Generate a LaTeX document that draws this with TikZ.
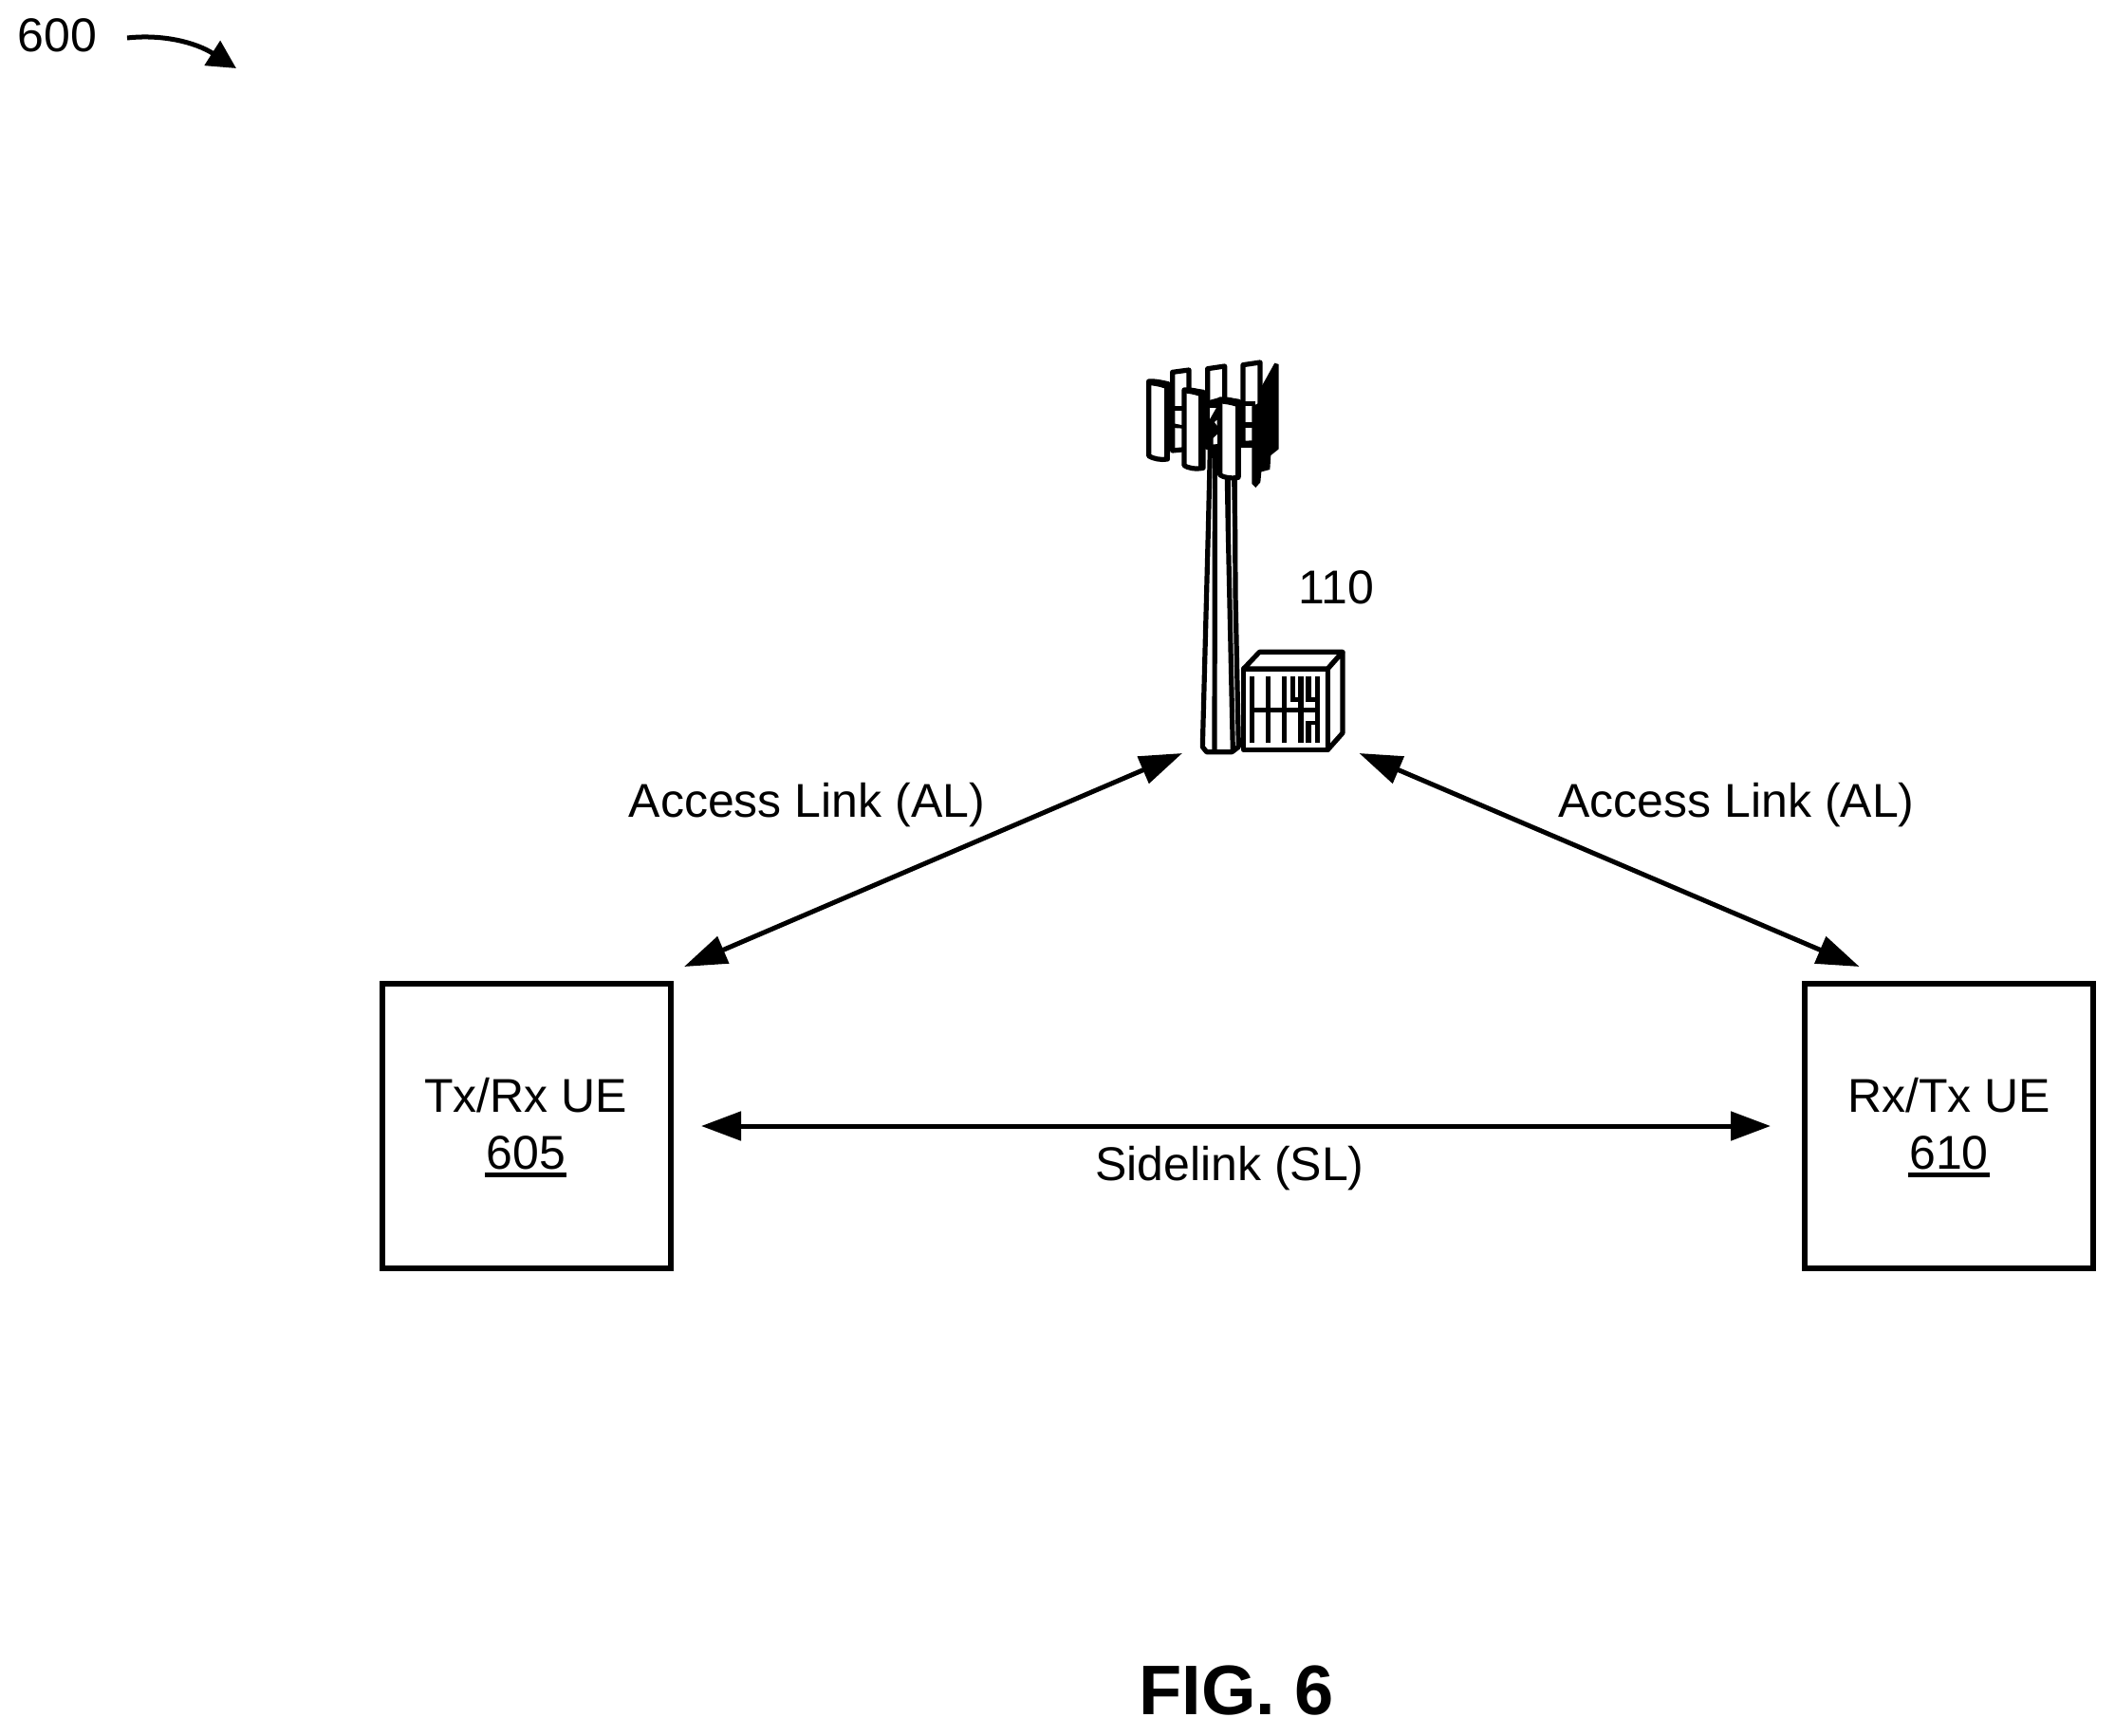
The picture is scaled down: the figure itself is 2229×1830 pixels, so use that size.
\documentclass[tikz,border=0pt]{standalone}
\usepackage{fontspec}
\setmainfont{Liberation Sans}
\usetikzlibrary{arrows.meta}
\newcommand{\ulnum}[1]{\setbox0\hbox{#1}\leavevmode\rlap{\kern-1.5pt\raisebox{-8.3pt}{\rule{\dimexpr\wd0+3pt\relax}{4.6pt}}}\box0}
\newcommand{\lowerstrut}{\rule{0pt}{39.5pt}}
\tikzset{
  txt/.style={inner sep=0pt,outer sep=0pt,font=\fontsize{50}{59.3}\selectfont},
  lbl/.style={txt,anchor=base},
  ue/.style={txt,draw=black,line width=5.5pt,minimum width=304pt,minimum height=300pt,align=center},
  hull/.style={inner sep=0pt,outer sep=0pt,minimum width=209pt,minimum height=415pt},
  link/.style={line width=5pt,{Triangle[length=45pt,width=30pt]}-{Triangle[length=45pt,width=30pt]}},
  slink/.style={line width=5pt,{Triangle[length=42pt,width=30pt]}-{Triangle[length=42pt,width=30pt]}},
  refarrow/.style={line width=5pt,-{Triangle[length=30pt,width=30pt]}},
  panel/.style={draw=black,fill=white,line width=5.2pt,line join=round},
  tline/.style={draw=black,line width=5.2pt,line join=round,line cap=round},
}
\begin{document}
\begin{tikzpicture}[x=1pt,y=-1pt]
\useasboundingbox[fill=white] (0,0) rectangle (2229,1830);
% labels
\node[lbl] (l600) at (60.5,55) {600};
\coordinate (r600a) at (134,40);
\coordinate (r600b) at (249,72);
\draw[refarrow] (r600a) .. controls (170,36) and (205,44) .. (r600b);
\node[lbl] (l110) at (1408.5,636) {110};
\node[lbl] (alleft) at (850.4,861.7) {Access Link (AL)};
\node[lbl] (alright) at (1830,861.7) {Access Link (AL)};
\node[lbl] (sl) at (1296,1244.5) {Sidelink (SL)};
\node[lbl,font=\fontsize{74}{80}\selectfont\bfseries] (fig) at (1303,1807) {FIG. 6};
% UEs
\node[ue] (txue) at (555,1187) {\lowerstrut Tx/Rx UE\kern1.5pt\\\ulnum{605}\kern1.5pt};
\node[ue] (rxue) at (2054,1187) {\lowerstrut Rx/Tx UE\\\ulnum{610}};
% base station hull
\node[hull] (bs) at (1312.5,587.5) {};
% tower (zoom coordinates: origin 1230,560, scale 1/3)
\begin{scope}[shift={(1230,560)},scale=1/3]
  \fill[white] (140,-300) -- (112,680) -- (125,700) -- (205,700) -- (232,680) -- (215,-300) -- cycle;
  \draw[tline] (137,-300) -- (130,0) -- (112,682) -- (125,698) -- (205,698) -- (226,682) -- (216,200) -- (215,0) -- (212,-170);
  \draw[tline] (151,-300) -- (151,0) -- (150,695);
  \draw[tline] (190,-170) -- (193,0) -- (208,695);
\end{scope}
% cabinet
\begin{scope}[shift={(1230,560)},scale=1/3]
  \draw[panel] (242,435) -- (508,435) -- (508,691) -- (242,691) -- cycle;
  \draw[panel] (242,435) -- (292,382) -- (555,382) -- (508,435) -- cycle;
  \draw[panel] (508,435) -- (555,382) -- (555,638) -- (508,691) -- cycle;
  \fill (261,460) rectangle (277,668);
  \fill (311,460) rectangle (327,668);
  \fill (362,460) rectangle (378,668);
  \fill (389,460) rectangle (405,541);
  \fill (414,460) rectangle (431,668);
  \fill (439,460) rectangle (456,541);
  \fill (439,600) rectangle (456,668);
  \fill (467,460) rectangle (483,668);
  \fill (389,525) rectangle (431,541);
  \fill (439,525) rectangle (483,541);
  \fill (439,600) rectangle (483,611);
  \fill (261,557) rectangle (483,573);
\end{scope}
% antenna array (zoom coordinates: origin 1180,360, scale 1/3)
\begin{scope}[shift={(1180,360)},scale=1/3]
  % back panels
  \draw[panel] (167,97) -- (219,90) -- (219,340) -- (167,345) -- cycle;
  \draw[panel] (278,86) -- (332,78) -- (332,330) -- (278,335) -- cycle;
  \draw[panel] (390,74) -- (444,66) -- (444,320) -- (390,322) -- cycle;
  % cross bars
  \fill (150,205) rectangle (200,218);
  \fill (150,255) -- (200,265) -- (200,275) -- (150,272) -- cycle;
  \fill (380,190) rectangle (430,205);
  \fill (380,255) rectangle (430,272);
  \fill (380,315) rectangle (430,335);
  % hub
  \fill (268,190) -- (312,178) -- (312,290) -- (296,305) -- (296,340) -- (268,340) -- cycle;
  \fill[white] (285,210) -- (305,210) -- (285,245) -- cycle;
  \fill[white] (300,255) -- (308,248) -- (308,266) -- cycle;
  % tower legs under the front panel
  \draw[tline] (343,425) -- (343,600);
  \draw[tline] (365,425) -- (365,600);
  % dark side of the array
  \fill (418,205) -- (450,190) -- (450,140) -- (490,68) -- (503,72) -- (503,340) -- (478,360) -- (475,405) -- (448,412) -- (445,445) -- (430,462) -- (418,450) -- cycle;
  % front panels
  \draw[panel] (92,126) .. controls (110,124) and (135,130) .. (153,134) -- (151,372) .. controls (130,376) and (105,370) .. (92,362) -- cycle;
  \fill (92,124) .. controls (110,122) and (135,128) .. (153,132) -- (153,150) -- (141,148) .. controls (125,142) and (110,140) .. (92,138) -- cycle;
  \fill (140,140) rectangle (153,372);
  \draw[panel] (204,153) .. controls (220,150) and (245,158) .. (264,160) -- (264,400) .. controls (240,405) and (215,400) .. (204,392) -- cycle;
  \fill (204,150) .. controls (220,148) and (245,155) .. (264,158) -- (264,175) -- (251,173) .. controls (235,167) and (220,165) .. (204,163) -- cycle;
  \fill (250,165) rectangle (268,400);
  \draw[panel] (317,183) .. controls (335,180) and (360,188) .. (377,190) -- (375,430) .. controls (350,435) and (325,428) .. (317,422) -- cycle;
  \fill (317,180) .. controls (335,178) and (360,185) .. (377,188) -- (377,207) -- (365,205) .. controls (350,200) and (335,198) .. (317,196) -- cycle;
  \fill (365,195) rectangle (383,430);
\end{scope}
% connectors
\draw[slink] ([xshift=32pt]txue.east) -- ([xshift=-36pt]rxue.west);
\draw[link] ([shift={(38,-1)}]bs.south west) -- ([shift={(14,-18)}]txue.north east);
\draw[link] ([shift={(15.5,-1)}]bs.south east) -- ([shift={(57.6,-18)}]rxue.north west);
\end{tikzpicture}
\end{document}
